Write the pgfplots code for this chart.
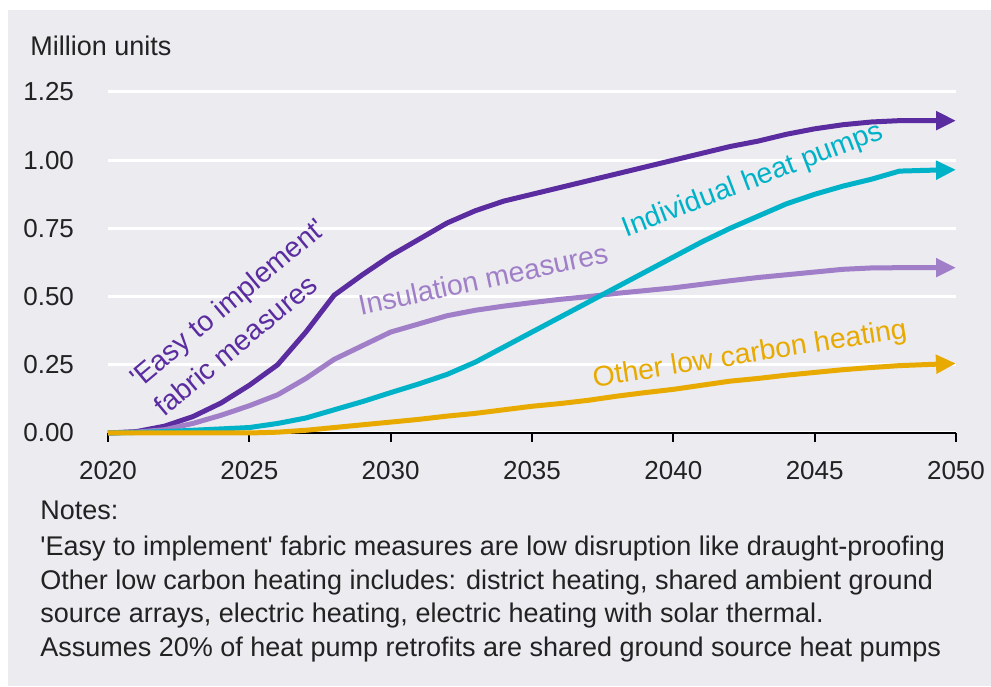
\documentclass[border=0pt]{standalone}
\usepackage{pgfplots}
\pgfplotsset{compat=1.18}
\usepackage{pgfplotstable}
\usepackage{fontspec}
\setmainfont{Liberation Sans}
\usetikzlibrary{arrows.meta}
\definecolor{bg}{HTML}{EBEBF0}
\definecolor{cdark}{HTML}{5A2CA0}
\definecolor{clight}{HTML}{A07FC8}
\definecolor{cteal}{HTML}{00B2C8}
\definecolor{corange}{HTML}{E8AA00}
\definecolor{txt}{HTML}{222222}

\pgfplotstableread{
year easy insul heat other
2020 0.000 0.000 0.000 0.000
2021 0.005 0.003 0.002 0.000
2022 0.025 0.012 0.005 0.000
2023 0.060 0.035 0.010 0.000
2024 0.110 0.065 0.015 0.000
2025 0.175 0.100 0.020 0.000
2026 0.250 0.140 0.035 0.003
2027 0.370 0.200 0.055 0.010
2028 0.505 0.270 0.085 0.020
2029 0.580 0.320 0.115 0.030
2030 0.650 0.370 0.148 0.040
2031 0.710 0.400 0.180 0.050
2032 0.770 0.430 0.215 0.062
2033 0.815 0.450 0.260 0.072
2034 0.850 0.465 0.315 0.085
2035 0.875 0.478 0.370 0.098
2036 0.900 0.490 0.425 0.108
2037 0.925 0.500 0.480 0.120
2038 0.950 0.512 0.535 0.135
2039 0.975 0.522 0.590 0.148
2040 1.000 0.532 0.645 0.160
2041 1.025 0.545 0.700 0.175
2042 1.050 0.558 0.750 0.190
2043 1.070 0.570 0.795 0.200
2044 1.095 0.580 0.840 0.212
2045 1.115 0.590 0.875 0.222
2046 1.130 0.600 0.905 0.232
2047 1.140 0.605 0.930 0.240
2048 1.145 0.606 0.960 0.247
2049 1.145 0.606 0.963 0.251
2050 1.145 0.606 0.965 0.255
}\data

\begin{document}
\begin{tikzpicture}
\fill[white] (0,0) rectangle (495.5pt,343pt);
\useasboundingbox (0,0) rectangle (495.5pt,343pt);
\fill[bg] (4pt,0) rectangle (495.5pt,338pt);

\node[anchor=base west, inner sep=0pt, text=txt, font=\fontsize{13.5pt}{16pt}\selectfont] at (15pt,315pt) {Million units};

\begin{axis}[
  at={(54pt,126.5pt)}, anchor=south west,
  scale only axis, width=424pt, height=170.5pt,
  xmin=2020, xmax=2050, ymin=0, ymax=1.25,
  clip=false,
  axis x line*=bottom, axis y line*=left,
  y axis line style={draw=none},
  x axis line style={black, line width=1.1pt},
  xtick={2020,2025,...,2050},
  ytick={0,0.25,0.5,0.75,1,1.25},
  ymajorgrids, grid style={white, line width=1.5pt},
  tick align=outside,
  major tick length=4.5pt,
  xtick style={black, line width=1.1pt},
  ytick style={draw=none},
  /pgf/number format/assume math mode=true,
  tick label style={font=\fontsize{13pt}{15pt}\selectfont, text=txt},
  xticklabel style={/pgf/number format/1000 sep={}, yshift=-6pt},
  yticklabel style={/pgf/number format/.cd, fixed, fixed zerofill, precision=2, /tikz/.cd, xshift=-9pt},
  every axis plot/.append style={line width=2.5pt, line join=round},
]
\addplot[cdark, -{Triangle[length=10pt,width=9pt]}] table[x=year,y=easy] {\data};
\addplot[clight, -{Triangle[length=10pt,width=9pt]}] table[x=year,y=insul] {\data};
\addplot[cteal, -{Triangle[length=10pt,width=9pt]}] table[x=year,y=heat] {\data};
\addplot[corange, -{Triangle[length=10pt,width=9pt]}] table[x=year,y=other] {\data};

\node[rotate=40, align=left, text=cdark, inner sep=0pt, font=\fontsize{14.2pt}{19pt}\selectfont] at (axis cs:2024.65,0.425) {\textquotesingle Easy to implement\textquotesingle\\fabric measures};
\node[rotate=12, text=clight, inner sep=0pt, font=\fontsize{14.2pt}{17pt}\selectfont] at (axis cs:2033.27,0.565) {Insulation measures};
\node[rotate=21, text=cteal, inner sep=0pt, font=\fontsize{14.2pt}{17pt}\selectfont] at (axis cs:2042.82,0.925) {Individual heat pumps};
\node[rotate=9, text=corange, inner sep=0pt, font=\fontsize{14.2pt}{17pt}\selectfont] at (axis cs:2042.71,0.285) {Other low carbon heating};
\end{axis}

\begin{scope}[every node/.style={anchor=base west, inner sep=0pt, text=txt, font=\fontsize{13.5pt}{16pt}\selectfont}]
\node at (20pt,83pt) {Notes:};
\node at (20pt,65pt) {\textquotesingle Easy to implement\textquotesingle{} fabric measures are low disruption like draught-proofing};
\node at (20pt,48.5pt) {Other low carbon heating includes: district heating, shared ambient ground};
\node at (20pt,32pt) {source arrays, electric heating, electric heating with solar thermal.};
\node at (20pt,15pt) {Assumes 20\% of heat pump retrofits are shared ground source heat pumps};
\end{scope}
\end{tikzpicture}
\end{document}
